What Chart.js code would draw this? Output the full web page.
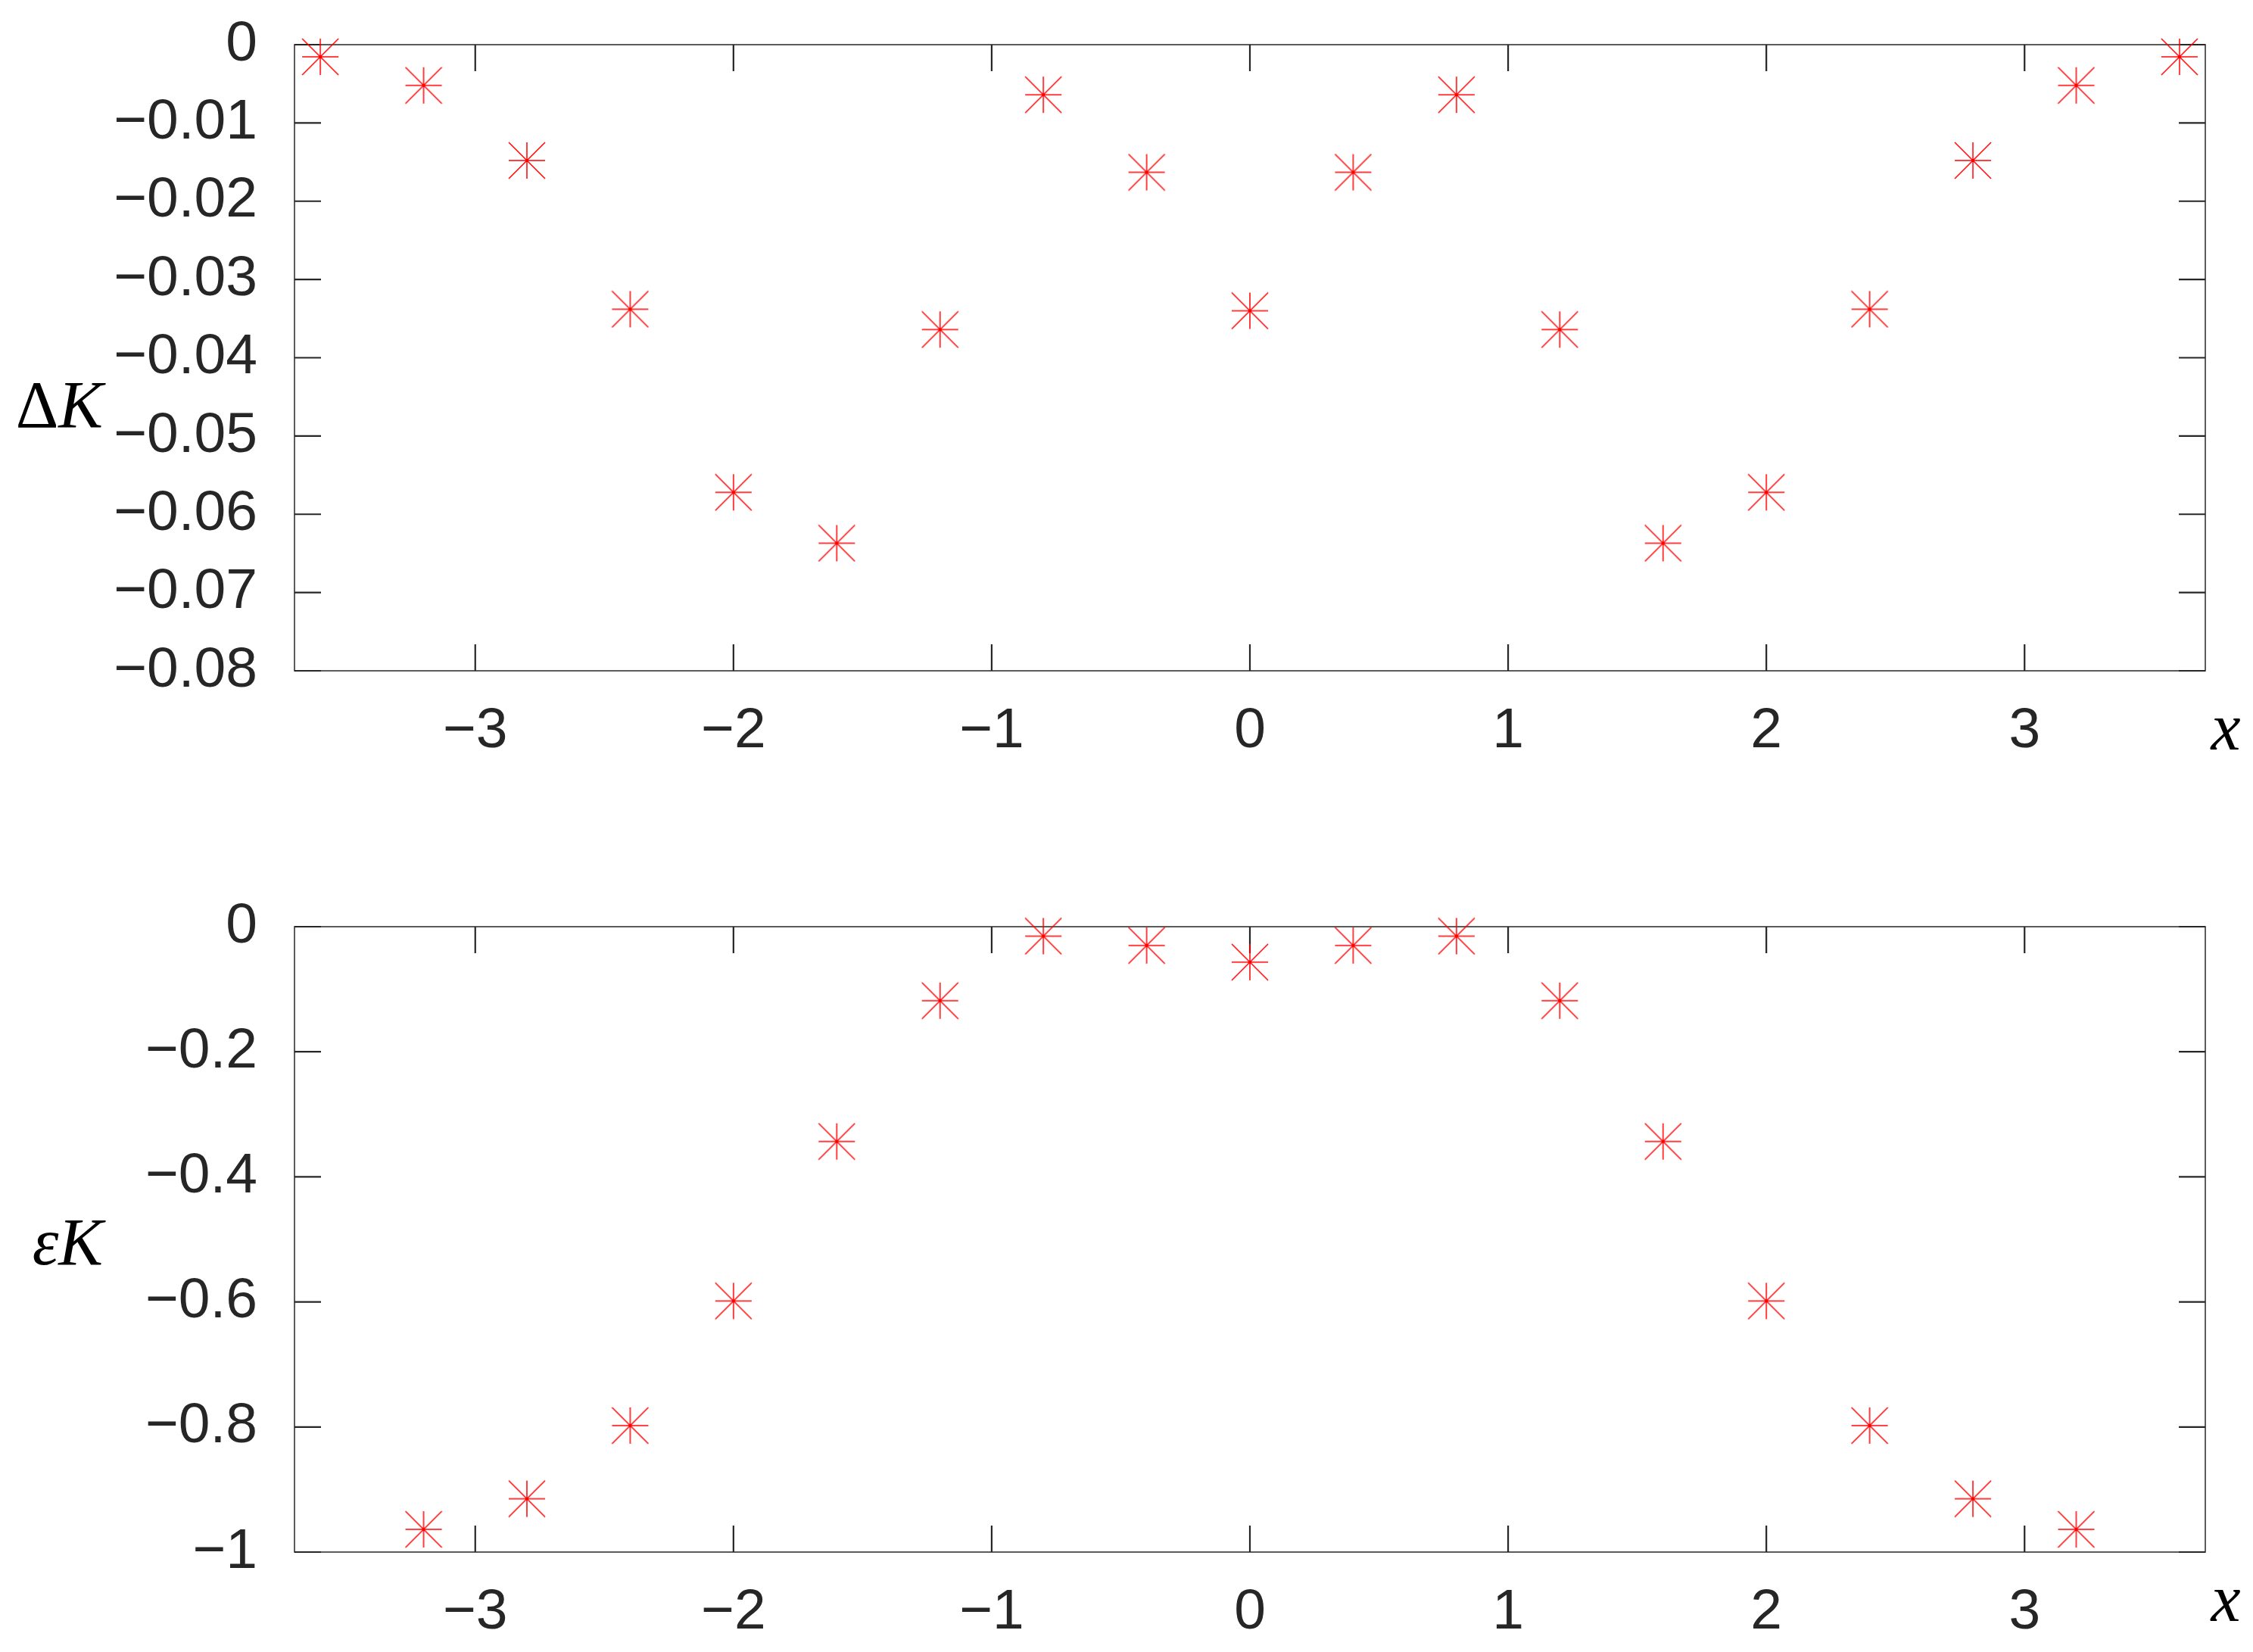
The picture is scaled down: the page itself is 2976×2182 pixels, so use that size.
<!DOCTYPE html>
<html>
<head>
<meta charset="utf-8">
<script src="https://cdn.jsdelivr.net/npm/chart.js@4.4.1/dist/chart.umd.min.js"></script>
<style>
  html, body { margin:0; padding:0; background:#fff; }
  canvas { position:absolute; left:0; }
</style>
</head>
<body>
<canvas id="topChart" width="2976" height="1091" style="top:0"></canvas>
<canvas id="bottomChart" width="2976" height="1091" style="top:1091px"></canvas>
<script>
/* ---- data ---- */
const xTop   = [-3.6,-3.2,-2.8,-2.4,-2.0,-1.6,-1.2,-0.8,-0.4,0,0.4,0.8,1.2,1.6,2.0,2.4,2.8,3.2,3.6];
const deltaK = [-0.00155,-0.0052,-0.0148,-0.0338,-0.0572,-0.0637,-0.0364,-0.0064,-0.0163,-0.0340,
                -0.0163,-0.0064,-0.0364,-0.0637,-0.0572,-0.0338,-0.0148,-0.0052,-0.00155];
const xBottom = [-3.2,-2.8,-2.4,-2.0,-1.6,-1.2,-0.8,-0.4,0,0.4,0.8,1.2,1.6,2.0,2.4,2.8,3.2];
const epsK    = [-0.9637,-0.9148,-0.7977,-0.5985,-0.3434,-0.1183,-0.0151,-0.0300,-0.0566,
                 -0.0300,-0.0151,-0.1183,-0.3434,-0.5985,-0.7977,-0.9148,-0.9637];
const xTicks       = [-3,-2,-1,0,1,2,3];
const yTicksTop    = [0,-0.01,-0.02,-0.03,-0.04,-0.05,-0.06,-0.07,-0.08];
const yTicksBottom = [0,-0.2,-0.4,-0.6,-0.8,-1];

const CANVAS_H = 1091;
const INK = '#262626';
const TICK_FONT = { family:'"Liberation Sans", Arial, sans-serif', size:75 };

/* matlab style '*' marker */
function asterisk(){
  const c = document.createElement('canvas');
  c.width = c.height = 50;
  const g = c.getContext('2d');
  g.strokeStyle = '#ff0000'; g.lineWidth = 1.5;
  g.beginPath();
  g.moveTo(25,1);  g.lineTo(25,49);
  g.moveTo(1,25);  g.lineTo(49,25);
  g.moveTo(1,1);   g.lineTo(49,49);
  g.moveTo(49,1);  g.lineTo(1,49);
  g.stroke();
  return c;
}
const star = asterisk();

const fmt = v => v < 0 ? '\u2212' + Math.abs(v) : String(v);

/* box, inside ticks on all sides, axis labels */
const frame = {
  id:'frame',
  beforeDatasetsDraw(chart, args, opt){
    const { ctx, chartArea:a, scales:{x, y} } = chart;
    ctx.save();
    ctx.strokeStyle = INK;
    ctx.lineWidth = 1.5;
    ctx.strokeRect(a.left, a.top, a.right - a.left, a.bottom - a.top);
    ctx.lineWidth = 2.2;
    ctx.beginPath();
    x.ticks.forEach(t => {
      const p = x.getPixelForValue(t.value);
      ctx.moveTo(p, a.bottom); ctx.lineTo(p, a.bottom - 35);
      ctx.moveTo(p, a.top);    ctx.lineTo(p, a.top + 35);
    });
    y.ticks.forEach(t => {
      const p = y.getPixelForValue(t.value);
      ctx.moveTo(a.left, p);  ctx.lineTo(a.left + 35, p);
      ctx.moveTo(a.right, p); ctx.lineTo(a.right - 35, p);
    });
    ctx.stroke();

    // y label, pieces of mixed style, right aligned
    ctx.fillStyle = '#000';
    ctx.textBaseline = 'alphabetic';
    const fontOf = it => (it ? 'italic ' : '') + '88px "Liberation Serif", "Times New Roman", serif';
    let w = 0;
    opt.yLabel.forEach(p => { ctx.font = fontOf(p.italic); w += ctx.measureText(p.text).width; });
    let cx = 136 - w;
    opt.yLabel.forEach(p => {
      ctx.font = fontOf(p.italic);
      ctx.fillText(p.text, cx, opt.yBase);
      cx += ctx.measureText(p.text).width;
    });
    // x label
    ctx.font = fontOf(true);
    ctx.textAlign = 'center';
    ctx.fillText('x', 2940, a.bottom + opt.xOff);
    ctx.restore();
  }
};

function makeChart(id, xs, ys, yTicks, yMin, top, bottom, labelOpt){
  return new Chart(document.getElementById(id), {
    type:'scatter',
    data:{ datasets:[{
      data: xs.map((v,i) => ({x:v, y:ys[i]})),
      pointStyle: star, pointRadius: 24, showLine:false, clip:false
    }]},
    options:{
      responsive:false, animation:false,
      layout:{ padding:{ top, right:63, left:0, bottom:0 } },
      plugins:{ legend:{display:false}, tooltip:{enabled:false}, frame: labelOpt },
      scales:{
        x:{
          type:'linear', min:-3.7, max:3.7,
          afterBuildTicks: s => { s.ticks = xTicks.map(v => ({value:v})); },
          afterFit: s => { s.height = CANVAS_H - bottom; s.paddingLeft = s.paddingRight = 0; },
          grid:{ display:false, drawTicks:false }, border:{ display:false },
          ticks:{ font:TICK_FONT, color:INK, padding:35, maxRotation:0, callback: fmt }
        },
        y:{
          type:'linear', min:yMin, max:0,
          afterBuildTicks: s => { s.ticks = yTicks.map(v => ({value:v})); },
          afterFit: s => { s.width = 389; s.paddingTop = s.paddingBottom = 0; },
          grid:{ display:false, drawTicks:false }, border:{ display:false },
          ticks:{ font:TICK_FONT, color:INK, padding:49, callback: fmt }
        }
      }
    },
    plugins:[frame]
  });
}

makeChart('topChart', xTop, deltaK, yTicksTop, -0.08, 59, 886,
  { yLabel:[{text:'\u0394', italic:false},{text:'K', italic:true}], yBase:564, xOff:104 });
makeChart('bottomChart', xBottom, epsK, yTicksBottom, -1, 133, 959,
  { yLabel:[{text:'\u03b5', italic:true},{text:'K', italic:true}], yBase:1670 - 1091, xOff:91 });
</script>
</body>
</html>
